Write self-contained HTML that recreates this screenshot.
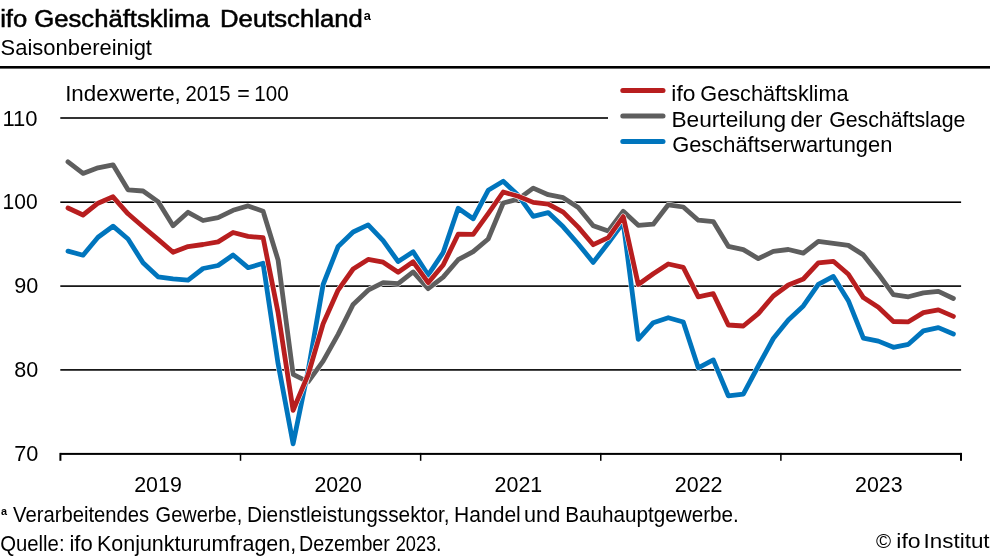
<!DOCTYPE html>
<html><head><meta charset="utf-8"><style>
html,body{margin:0;padding:0;background:#fff;width:990px;height:557px;overflow:hidden;}
svg{display:block;will-change:transform;}
</style></head><body>
<svg width="990" height="557" viewBox="0 0 990 557">
<rect width="990" height="557" fill="#fff"/>
<text x="0.16" y="26.8" font-family='"Liberation Sans", sans-serif' font-size="24.4" fill="#000" textLength="209.36" lengthAdjust="spacingAndGlyphs" stroke="#000" stroke-width="0.55">ifo Geschäftsklima</text>
<text x="220.07" y="26.8" font-family='"Liberation Sans", sans-serif' font-size="24.4" fill="#000" textLength="142.71" lengthAdjust="spacingAndGlyphs" stroke="#000" stroke-width="0.55">Deutschland</text>
<text x="363.83" y="20.2" font-family='"Liberation Sans", sans-serif' font-size="13" font-weight="bold" fill="#000" textLength="7.09" lengthAdjust="spacingAndGlyphs">a</text>
<text x="0.60" y="55.4" font-family='"Liberation Sans", sans-serif' font-size="21.2" fill="#000" textLength="151.36" lengthAdjust="spacingAndGlyphs">Saisonbereinigt</text>
<rect x="0" y="66" width="990" height="2.6" fill="#000"/>
<rect x="60.3" y="117.2" width="900.8" height="1.6" fill="#000"/>
<rect x="60.3" y="201.4" width="900.8" height="1.6" fill="#000"/>
<rect x="60.3" y="285.3" width="900.8" height="1.6" fill="#000"/>
<rect x="60.3" y="369.1" width="900.8" height="1.6" fill="#000"/>
<rect x="60.3" y="452.9" width="901.2" height="2" fill="#000"/>
<rect x="59.40" y="452.9" width="2.0" height="7.9" fill="#000"/>
<rect x="239.77" y="452.9" width="1.5" height="7.9" fill="#000"/>
<rect x="419.89" y="452.9" width="1.5" height="7.9" fill="#000"/>
<rect x="600.01" y="452.9" width="1.5" height="7.9" fill="#000"/>
<rect x="780.13" y="452.9" width="1.5" height="7.9" fill="#000"/>
<rect x="960.00" y="452.9" width="2.0" height="7.9" fill="#000"/>
<text x="2.50" y="125.6" font-family='"Liberation Sans", sans-serif' font-size="22.3" fill="#000" textLength="35.13" lengthAdjust="spacingAndGlyphs">110</text>
<text x="2.50" y="209.3" font-family='"Liberation Sans", sans-serif' font-size="22.3" fill="#000" textLength="35.13" lengthAdjust="spacingAndGlyphs">100</text>
<text x="14.29" y="293.0" font-family='"Liberation Sans", sans-serif' font-size="22.3" fill="#000" textLength="24.06" lengthAdjust="spacingAndGlyphs">90</text>
<text x="14.36" y="376.8" font-family='"Liberation Sans", sans-serif' font-size="22.3" fill="#000" textLength="23.98" lengthAdjust="spacingAndGlyphs">80</text>
<text x="14.19" y="460.5" font-family='"Liberation Sans", sans-serif' font-size="22.3" fill="#000" textLength="24.16" lengthAdjust="spacingAndGlyphs">70</text>
<text x="134.22" y="492.3" font-family='"Liberation Sans", sans-serif' font-size="22.3" fill="#000" textLength="47.59" lengthAdjust="spacingAndGlyphs">2019</text>
<text x="314.43" y="492.3" font-family='"Liberation Sans", sans-serif' font-size="22.3" fill="#000" textLength="47.40" lengthAdjust="spacingAndGlyphs">2020</text>
<text x="494.62" y="492.3" font-family='"Liberation Sans", sans-serif' font-size="22.3" fill="#000" textLength="47.62" lengthAdjust="spacingAndGlyphs">2021</text>
<text x="674.82" y="492.3" font-family='"Liberation Sans", sans-serif' font-size="22.3" fill="#000" textLength="47.65" lengthAdjust="spacingAndGlyphs">2022</text>
<text x="855.03" y="492.3" font-family='"Liberation Sans", sans-serif' font-size="22.3" fill="#000" textLength="47.51" lengthAdjust="spacingAndGlyphs">2023</text>
<text x="65.13" y="101" font-family='"Liberation Sans", sans-serif' font-size="22.5" fill="#000" textLength="115.68" lengthAdjust="spacingAndGlyphs">Indexwerte,</text>
<text x="185.48" y="101" font-family='"Liberation Sans", sans-serif' font-size="22.5" fill="#000" textLength="45.07" lengthAdjust="spacingAndGlyphs">2015</text>
<text x="237.15" y="101" font-family='"Liberation Sans", sans-serif' font-size="22.5" fill="#000" textLength="12.50" lengthAdjust="spacingAndGlyphs">=</text>
<text x="254.33" y="101" font-family='"Liberation Sans", sans-serif' font-size="22.5" fill="#000" textLength="34.37" lengthAdjust="spacingAndGlyphs">100</text>
<polyline points="68.00,161.8 83.01,173.4 98.01,167.8 113.02,164.8 128.03,189.8 143.03,191.0 158.04,201.6 173.05,225.8 188.05,212.3 203.06,220.5 218.07,217.6 233.07,210.3 248.08,205.9 263.09,211.2 278.10,260.1 293.10,374.3 308.11,381.8 323.12,361.1 338.12,334.3 353.13,304.4 368.14,290.2 383.14,282.7 398.15,283.7 413.16,271.9 428.16,288.7 443.17,277.1 458.18,259.7 473.18,251.7 488.19,239.0 503.20,203.0 518.20,199.1 533.21,188.1 548.22,194.7 563.22,197.7 578.23,207.5 593.24,225.7 608.24,231.1 623.25,211.3 638.26,225.3 653.27,224.2 668.27,204.8 683.28,207.0 698.29,220.2 713.29,221.6 728.30,246.3 743.31,249.6 758.31,258.6 773.32,251.3 788.33,249.5 803.33,253.1 818.34,241.3 833.35,243.4 848.35,245.4 863.36,254.9 878.37,273.9 893.37,294.6 908.38,296.8 923.39,292.9 938.39,291.4 953.40,298.5" fill="none" stroke="#fff" stroke-width="5.8" stroke-linejoin="round" stroke-linecap="round"/><polyline points="68.00,161.8 83.01,173.4 98.01,167.8 113.02,164.8 128.03,189.8 143.03,191.0 158.04,201.6 173.05,225.8 188.05,212.3 203.06,220.5 218.07,217.6 233.07,210.3 248.08,205.9 263.09,211.2 278.10,260.1 293.10,374.3 308.11,381.8 323.12,361.1 338.12,334.3 353.13,304.4 368.14,290.2 383.14,282.7 398.15,283.7 413.16,271.9 428.16,288.7 443.17,277.1 458.18,259.7 473.18,251.7 488.19,239.0 503.20,203.0 518.20,199.1 533.21,188.1 548.22,194.7 563.22,197.7 578.23,207.5 593.24,225.7 608.24,231.1 623.25,211.3 638.26,225.3 653.27,224.2 668.27,204.8 683.28,207.0 698.29,220.2 713.29,221.6 728.30,246.3 743.31,249.6 758.31,258.6 773.32,251.3 788.33,249.5 803.33,253.1 818.34,241.3 833.35,243.4 848.35,245.4 863.36,254.9 878.37,273.9 893.37,294.6 908.38,296.8 923.39,292.9 938.39,291.4 953.40,298.5" fill="none" stroke="#5e5e5e" stroke-width="4.8" stroke-linejoin="round" stroke-linecap="round"/>
<polyline points="68.00,251.1 83.01,255.2 98.01,237.3 113.02,226.2 128.03,239.0 143.03,262.8 158.04,276.8 173.05,278.9 188.05,280.2 203.06,268.5 218.07,265.5 233.07,255.0 248.08,267.7 263.09,263.3 278.10,363.8 293.10,443.8 308.11,370.8 323.12,284.5 338.12,246.5 353.13,232.0 368.14,224.9 383.14,240.7 398.15,261.6 413.16,251.8 428.16,275.1 443.17,252.5 458.18,208.3 473.18,218.8 488.19,190.3 503.20,181.3 518.20,195.3 533.21,216.4 548.22,212.6 563.22,226.8 578.23,244.0 593.24,262.4 608.24,243.0 623.25,222.6 638.26,339.3 653.27,322.7 668.27,317.7 683.28,322.0 698.29,367.8 713.29,359.9 728.30,395.8 743.31,394.1 758.31,366.0 773.32,338.5 788.33,319.9 803.33,305.9 818.34,284.4 833.35,276.4 848.35,300.7 863.36,338.1 878.37,341.1 893.37,347.3 908.38,344.3 923.39,330.9 938.39,327.6 953.40,334.0" fill="none" stroke="#fff" stroke-width="5.8" stroke-linejoin="round" stroke-linecap="round"/><polyline points="68.00,251.1 83.01,255.2 98.01,237.3 113.02,226.2 128.03,239.0 143.03,262.8 158.04,276.8 173.05,278.9 188.05,280.2 203.06,268.5 218.07,265.5 233.07,255.0 248.08,267.7 263.09,263.3 278.10,363.8 293.10,443.8 308.11,370.8 323.12,284.5 338.12,246.5 353.13,232.0 368.14,224.9 383.14,240.7 398.15,261.6 413.16,251.8 428.16,275.1 443.17,252.5 458.18,208.3 473.18,218.8 488.19,190.3 503.20,181.3 518.20,195.3 533.21,216.4 548.22,212.6 563.22,226.8 578.23,244.0 593.24,262.4 608.24,243.0 623.25,222.6 638.26,339.3 653.27,322.7 668.27,317.7 683.28,322.0 698.29,367.8 713.29,359.9 728.30,395.8 743.31,394.1 758.31,366.0 773.32,338.5 788.33,319.9 803.33,305.9 818.34,284.4 833.35,276.4 848.35,300.7 863.36,338.1 878.37,341.1 893.37,347.3 908.38,344.3 923.39,330.9 938.39,327.6 953.40,334.0" fill="none" stroke="#0075bd" stroke-width="4.8" stroke-linejoin="round" stroke-linecap="round"/>
<polyline points="68.00,208.0 83.01,215.0 98.01,203.2 113.02,196.8 128.03,213.8 143.03,226.8 158.04,239.3 173.05,252.3 188.05,246.6 203.06,244.5 218.07,241.9 233.07,232.5 248.08,236.4 263.09,237.6 278.10,312.8 293.10,410.3 308.11,374.8 323.12,323.8 338.12,290.1 353.13,269.0 368.14,259.4 383.14,262.2 398.15,272.2 413.16,261.8 428.16,282.7 443.17,265.0 458.18,234.2 473.18,234.4 488.19,213.6 503.20,192.0 518.20,196.3 533.21,202.4 548.22,204.1 563.22,212.1 578.23,227.1 593.24,244.7 608.24,237.6 623.25,216.6 638.26,284.5 653.27,273.7 668.27,264.0 683.28,267.3 698.29,296.8 713.29,293.7 728.30,325.0 743.31,326.0 758.31,313.6 773.32,296.0 788.33,285.0 803.33,279.0 818.34,262.8 833.35,261.3 848.35,274.3 863.36,297.6 878.37,307.3 893.37,321.5 908.38,321.8 923.39,312.6 938.39,309.9 953.40,316.4" fill="none" stroke="#fff" stroke-width="5.8" stroke-linejoin="round" stroke-linecap="round"/><polyline points="68.00,208.0 83.01,215.0 98.01,203.2 113.02,196.8 128.03,213.8 143.03,226.8 158.04,239.3 173.05,252.3 188.05,246.6 203.06,244.5 218.07,241.9 233.07,232.5 248.08,236.4 263.09,237.6 278.10,312.8 293.10,410.3 308.11,374.8 323.12,323.8 338.12,290.1 353.13,269.0 368.14,259.4 383.14,262.2 398.15,272.2 413.16,261.8 428.16,282.7 443.17,265.0 458.18,234.2 473.18,234.4 488.19,213.6 503.20,192.0 518.20,196.3 533.21,202.4 548.22,204.1 563.22,212.1 578.23,227.1 593.24,244.7 608.24,237.6 623.25,216.6 638.26,284.5 653.27,273.7 668.27,264.0 683.28,267.3 698.29,296.8 713.29,293.7 728.30,325.0 743.31,326.0 758.31,313.6 773.32,296.0 788.33,285.0 803.33,279.0 818.34,262.8 833.35,261.3 848.35,274.3 863.36,297.6 878.37,307.3 893.37,321.5 908.38,321.8 923.39,312.6 938.39,309.9 953.40,316.4" fill="none" stroke="#b81e1f" stroke-width="4.8" stroke-linejoin="round" stroke-linecap="round"/>
<rect x="608" y="75" width="382" height="85" fill="#fff"/>
<line x1="622.8" y1="90.5" x2="663" y2="90.5" stroke="#b81e1f" stroke-width="5" stroke-linecap="round"/>
<line x1="622.8" y1="116" x2="663" y2="116" stroke="#5e5e5e" stroke-width="5" stroke-linecap="round"/>
<line x1="622.8" y1="141.5" x2="663" y2="141.5" stroke="#0075bd" stroke-width="5" stroke-linecap="round"/>
<text x="671.37" y="101.2" font-family='"Liberation Sans", sans-serif' font-size="22.5" fill="#000" textLength="24.08" lengthAdjust="spacingAndGlyphs">ifo</text>
<text x="700.31" y="101.2" font-family='"Liberation Sans", sans-serif' font-size="22.5" fill="#000" textLength="148.29" lengthAdjust="spacingAndGlyphs">Geschäftsklima</text>
<text x="671.44" y="126.5" font-family='"Liberation Sans", sans-serif' font-size="22.5" fill="#000" textLength="114.72" lengthAdjust="spacingAndGlyphs">Beurteilung</text>
<text x="790.57" y="126.5" font-family='"Liberation Sans", sans-serif' font-size="22.5" fill="#000" textLength="31.89" lengthAdjust="spacingAndGlyphs">der</text>
<text x="829.13" y="126.5" font-family='"Liberation Sans", sans-serif' font-size="22.5" fill="#000" textLength="136.22" lengthAdjust="spacingAndGlyphs">Geschäftslage</text>
<text x="672.20" y="151.7" font-family='"Liberation Sans", sans-serif' font-size="22.5" fill="#000" textLength="220.12" lengthAdjust="spacingAndGlyphs">Geschäftserwartungen</text>
<text x="0.88" y="514.8" font-family='"Liberation Sans", sans-serif' font-size="11" font-weight="bold" fill="#000" textLength="6.05" lengthAdjust="spacingAndGlyphs">a</text>
<text x="13.01" y="521.5" font-family='"Liberation Sans", sans-serif' font-size="21.5" fill="#000" textLength="136.21" lengthAdjust="spacingAndGlyphs">Verarbeitendes</text>
<text x="155.59" y="521.5" font-family='"Liberation Sans", sans-serif' font-size="21.5" fill="#000" textLength="86.70" lengthAdjust="spacingAndGlyphs">Gewerbe,</text>
<text x="246.90" y="521.5" font-family='"Liberation Sans", sans-serif' font-size="21.5" fill="#000" textLength="202.66" lengthAdjust="spacingAndGlyphs">Dienstleistungssektor,</text>
<text x="454.07" y="521.5" font-family='"Liberation Sans", sans-serif' font-size="21.5" fill="#000" textLength="66.74" lengthAdjust="spacingAndGlyphs">Handel</text>
<text x="524.09" y="521.5" font-family='"Liberation Sans", sans-serif' font-size="21.5" fill="#000" textLength="36.10" lengthAdjust="spacingAndGlyphs">und</text>
<text x="565.20" y="521.5" font-family='"Liberation Sans", sans-serif' font-size="21.5" fill="#000" textLength="173.58" lengthAdjust="spacingAndGlyphs">Bauhauptgewerbe.</text>
<text x="0.24" y="550.5" font-family='"Liberation Sans", sans-serif' font-size="21.3" fill="#000" textLength="64.31" lengthAdjust="spacingAndGlyphs">Quelle:</text>
<text x="69.42" y="550.5" font-family='"Liberation Sans", sans-serif' font-size="21.3" fill="#000" textLength="23.30" lengthAdjust="spacingAndGlyphs">ifo</text>
<text x="96.94" y="550.5" font-family='"Liberation Sans", sans-serif' font-size="21.3" fill="#000" textLength="199.29" lengthAdjust="spacingAndGlyphs">Konjunkturumfragen,</text>
<text x="298.98" y="550.5" font-family='"Liberation Sans", sans-serif' font-size="21.3" fill="#000" textLength="90.94" lengthAdjust="spacingAndGlyphs">Dezember</text>
<text x="395.68" y="550.5" font-family='"Liberation Sans", sans-serif' font-size="21.3" fill="#000" textLength="45.58" lengthAdjust="spacingAndGlyphs">2023.</text>
<text x="875.99" y="548" font-family='"Liberation Sans", sans-serif' font-size="20.7" fill="#000" textLength="15.13" lengthAdjust="spacingAndGlyphs">©</text>
<text x="896.36" y="548" font-family='"Liberation Sans", sans-serif' font-size="20.7" fill="#000" textLength="24.31" lengthAdjust="spacingAndGlyphs">ifo</text>
<text x="923.63" y="548" font-family='"Liberation Sans", sans-serif' font-size="20.7" fill="#000" textLength="65.93" lengthAdjust="spacingAndGlyphs">Institut</text>
</svg>
</body></html>
